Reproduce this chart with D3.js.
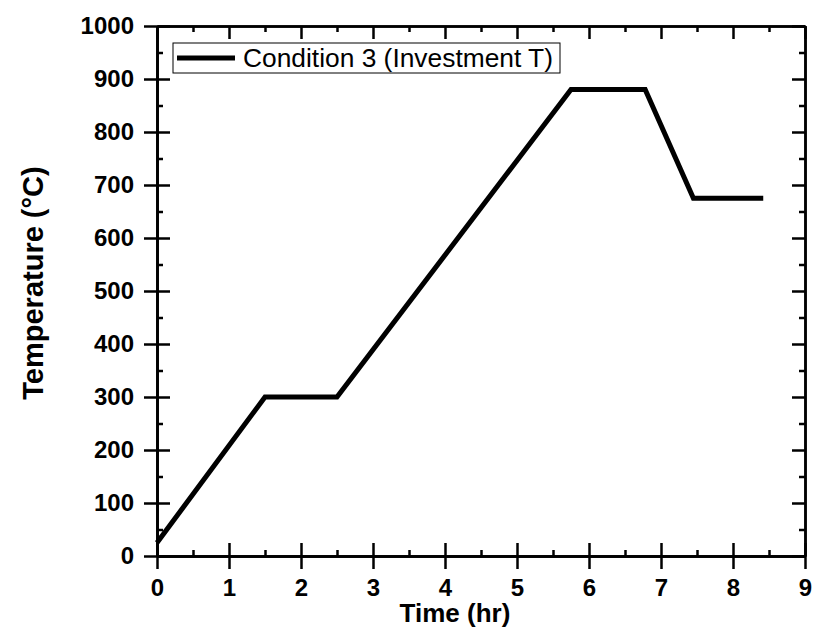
<!DOCTYPE html>
<html>
<head>
<meta charset="utf-8">
<script src="https://cdn.jsdelivr.net/npm/d3@7"></script>
<style>
  body { margin: 0; background: #fff; }
  svg text { font-family: Arial, "Liberation Sans", sans-serif; fill: #000; }
  .axis path, .axis line { stroke: #000; stroke-width: 2.5; }
  .axis text { font-size: 24px; font-weight: bold; }
</style>
</head>
<body>
<div id="chart"></div>
<script>
// Heating profile
const timeHr = [0, 1.5, 2.5, 5.75, 6.78, 7.45, 8.42];
const tempC  = [25, 300, 300, 880, 880, 675, 675];
const xTicks = [0, 1, 2, 3, 4, 5, 6, 7, 8, 9];
const yTicks = [0, 100, 200, 300, 400, 500, 600, 700, 800, 900, 1000];
const seriesName = "Condition 3 (Investment T)";

const W = 814, H = 628;
const margin = { top: 26, right: 9, bottom: 72, left: 157 };
const width = W - margin.left - margin.right;
const height = H - margin.top - margin.bottom;

const svg = d3.select("#chart").append("svg")
    .attr("width", W)
    .attr("height", H);

const g = svg.append("g")
    .attr("transform", `translate(${margin.left}, ${margin.top})`);

const x = d3.scaleLinear().domain([0, 9]).range([0, width]);
const y = d3.scaleLinear().domain([0, 1000]).range([height, 0]);

const xMinor = d3.range(0.5, 9, 1);
const yMinor = d3.range(50, 1000, 100);
const fmt = d3.format("d");

// bottom axis: major ticks cross the line, minor ticks inside
g.append("g").attr("class", "axis")
    .attr("transform", `translate(0, ${height})`)
    .call(d3.axisBottom(x).tickValues(xTicks).tickFormat(fmt).tickSize(13).tickPadding(10).tickSizeOuter(0));
g.append("g").attr("class", "axis")
    .attr("transform", `translate(0, ${height})`)
    .call(d3.axisBottom(x).tickValues(xTicks).tickSize(-13).tickFormat("").tickSizeOuter(0));
g.append("g").attr("class", "axis")
    .attr("transform", `translate(0, ${height})`)
    .call(d3.axisBottom(x).tickValues(xMinor).tickSize(-6).tickFormat("").tickSizeOuter(0));

// left axis
g.append("g").attr("class", "axis")
    .call(d3.axisLeft(y).tickValues(yTicks).tickFormat(fmt).tickSize(13).tickPadding(10).tickSizeOuter(0));
g.append("g").attr("class", "axis")
    .call(d3.axisLeft(y).tickValues(yTicks).tickSize(-13).tickFormat("").tickSizeOuter(0));
g.append("g").attr("class", "axis")
    .call(d3.axisLeft(y).tickValues(yMinor).tickSize(-6).tickFormat("").tickSizeOuter(0));

// top and right axes, ticks inward only
g.append("g").attr("class", "axis")
    .call(d3.axisTop(x).tickValues(xTicks).tickSize(-13).tickFormat("").tickSizeOuter(0));
g.append("g").attr("class", "axis")
    .call(d3.axisTop(x).tickValues(xMinor).tickSize(-6).tickFormat("").tickSizeOuter(0));
g.append("g").attr("class", "axis")
    .attr("transform", `translate(${width}, 0)`)
    .call(d3.axisRight(y).tickValues(yTicks).tickSize(-13).tickFormat("").tickSizeOuter(0));
g.append("g").attr("class", "axis")
    .attr("transform", `translate(${width}, 0)`)
    .call(d3.axisRight(y).tickValues(yMinor).tickSize(-6).tickFormat("").tickSizeOuter(0));

// data line
const line = d3.line()
    .x((d, i) => x(timeHr[i]))
    .y(d => y(d));

g.append("path")
    .datum(tempC)
    .attr("fill", "none")
    .attr("stroke", "#000")
    .attr("stroke-width", 5)
    .attr("stroke-linejoin", "miter")
    .attr("d", line);

// axis titles
svg.append("text")
    .attr("x", 455)
    .attr("y", 622)
    .attr("text-anchor", "middle")
    .style("font-size", "26px")
    .style("font-weight", "bold")
    .text("Time (hr)");

svg.append("text")
    .attr("transform", "translate(43, 283) rotate(-90)")
    .attr("text-anchor", "middle")
    .style("font-size", "29px")
    .style("font-weight", "bold")
    .text("Temperature (\u00B0C)");

// legend
const legend = svg.append("g").attr("transform", "translate(173, 43)");
legend.append("rect")
    .attr("width", 387)
    .attr("height", 30)
    .attr("fill", "#fff")
    .attr("stroke", "#000")
    .attr("stroke-width", 1);
legend.append("line")
    .attr("x1", 4).attr("x2", 62)
    .attr("y1", 15).attr("y2", 15)
    .attr("stroke", "#000")
    .attr("stroke-width", 5);
legend.append("text")
    .attr("x", 70)
    .attr("y", 24)
    .attr("textLength", 310)
    .attr("lengthAdjust", "spacingAndGlyphs")
    .style("font-size", "25px")
    .text(seriesName);
</script>
</body>
</html>
